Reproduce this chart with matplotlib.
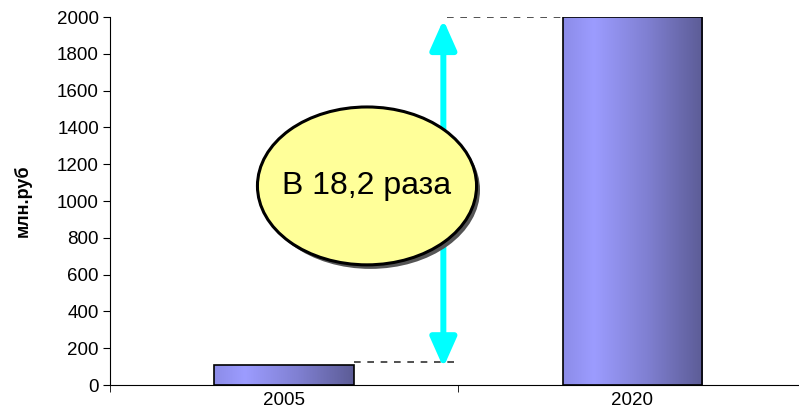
import numpy as np
import matplotlib
matplotlib.use("Agg")
import matplotlib.pyplot as plt
from matplotlib.patches import Ellipse
from matplotlib.colors import LinearSegmentedColormap

# =====================================
# Datos
# =====================================
anios = ["2005", "2020"]
valores = [110, 2000]
texto_ratio = "В 18,2 раза"
etiqueta_y = "млн.руб"
ticks_y = list(range(0, 2001, 200))

plt.rcParams["font.family"] = ["Liberation Sans", "DejaVu Sans"]

fig = plt.figure(figsize=(7.99, 4.18), dpi=100)
ax = fig.add_axes([110 / 799, 33 / 418, 689 / 799, 368 / 418])

x = np.arange(len(anios))
ancho = 0.40

# degradado de las barras (claro a la izquierda, oscuro a la derecha)
cmap = LinearSegmentedColormap.from_list(
    "barra", [(0.0, "#8C8CE8"), (0.22, "#9C9CFF"), (0.6, "#8080D2"), (1.0, "#5C5C96")])
grad = np.linspace(0, 1, 256).reshape(1, -1)

barras = ax.bar(x, valores, width=ancho, color="none", edgecolor="black",
                linewidth=1.2, zorder=3)
for b in barras:
    x0, y0 = b.get_x(), b.get_y()
    w, h = b.get_width(), b.get_height()
    im = ax.imshow(grad, cmap=cmap, aspect="auto", extent=[x0, x0 + w, y0, y0 + h],
                   zorder=2)
    im.set_clip_path(b)

ax.set_xlim(-0.496, 1.478)
ax.set_ylim(0, 2000)
ax.set_yticks(ticks_y)
ax.tick_params(axis="y", direction="out", length=5, labelsize=13.5, pad=3)
ax.set_xticks(x)
ax.set_xticklabels(anios)
ax.tick_params(axis="x", which="major", length=0, labelsize=13.5, pad=5)
ax.set_xticks([-0.5, 0.5], minor=True)
ax.tick_params(axis="x", which="minor", direction="out", length=5)
ax.spines["top"].set_visible(False)
ax.spines["right"].set_visible(False)
ax.set_ylabel(etiqueta_y, fontsize=13, fontweight="bold", labelpad=18)

# flecha doble y lineas discontinuas
x_flecha = 0.457
ax.plot([x[0] + ancho / 2, x_flecha + 0.03], [valores[0] + 15, valores[0] + 15],
        color="#333333", lw=1.2, ls=(0, (4, 4)), zorder=1)
ax.plot([x_flecha + 0.01, x[1] - ancho / 2], [valores[1], valores[1]],
        color="#333333", lw=1.2, ls=(0, (4, 4)), zorder=1)
ax.annotate("", xy=(x_flecha, 1985), xytext=(x_flecha, 95),
            arrowprops=dict(arrowstyle="<|-|>,head_length=0.9,head_width=0.4",
                            color="#00FFFF", lw=4.3, mutation_scale=20,
                            shrinkA=0, shrinkB=0), zorder=4)

# elipse con sombra
sombra = Ellipse((0.378, 0.530), 0.318, 0.429, transform=ax.transAxes,
                 facecolor="#555555", edgecolor="none", zorder=5)
ax.add_patch(sombra)
elipse = Ellipse((0.373, 0.541), 0.318, 0.429, transform=ax.transAxes,
                 facecolor="#FFFF99", edgecolor="black", linewidth=2.2, zorder=6)
ax.add_patch(elipse)
ax.text(0.373, 0.541, texto_ratio, transform=ax.transAxes, ha="center",
        va="center", fontsize=23, zorder=7)

fig.savefig("out.png", dpi=100)
